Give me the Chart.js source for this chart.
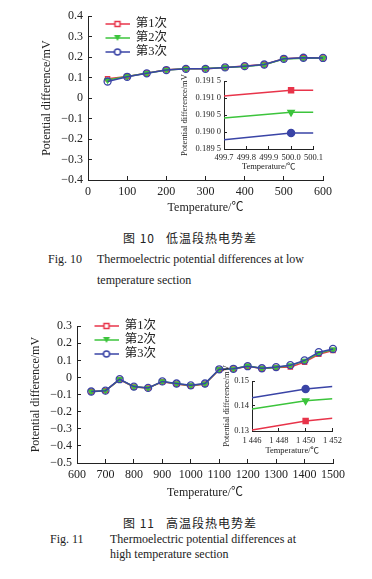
<!DOCTYPE html>
<html>
<head>
<meta charset="utf-8">
<script src="https://cdn.jsdelivr.net/npm/chart.js@4/dist/chart.umd.min.js"></script>
<style>
  body { margin: 0; background: #fff; }
  #page { position: relative; width: 372px; height: 579px; overflow: hidden; background: #fff; }
  .box { position: absolute; }
  .cap { position: absolute; white-space: nowrap; color: #222; font-family: "Liberation Serif", "Noto Sans CJK SC", serif; font-size: 12px; line-height: 14px; }
  .cn { font-family: "Noto Sans CJK SC", serif; letter-spacing: 1px; }
</style>
</head>
<body>
<div id="page">
  <canvas id="lowChart" class="box" style="left:0;top:0" width="372" height="215"></canvas>
  <canvas id="lowInset" class="box" style="left:175px;top:70px" width="155" height="105"></canvas>
  <canvas id="highChart" class="box" style="left:0;top:310px" width="372" height="190"></canvas>
  <canvas id="highInset" class="box" style="left:215px;top:362px" width="135" height="96"></canvas>

  <div class="cap cn" style="left:123px;top:231px">图 10&nbsp;&nbsp;&nbsp;低温段热电势差</div>
  <div class="cap" style="left:48px;top:252px">Fig. 10</div>
  <div class="cap" style="left:97px;top:252px">Thermoelectric potential differences at low</div>
  <div class="cap" style="left:97px;top:273px">temperature section</div>

  <div class="cap cn" style="left:123px;top:516px">图 11&nbsp;&nbsp;&nbsp;高温段热电势差</div>
  <div class="cap" style="left:50px;top:532px">Fig. 11</div>
  <div class="cap" style="left:110px;top:532px">Thermoelectric potential differences at</div>
  <div class="cap" style="left:110px;top:547px">high temperature section</div>
</div>
<script>
  // ---- data ----
  const runNames = ["第1次", "第2次", "第3次"];

  // Fig 10, low temperature section
  const lowTemps = [50, 100, 150, 200, 250, 300, 350, 400, 450, 500, 550, 600];
  const lowRun1 = [0.095, 0.106, 0.122, 0.138, 0.143, 0.143, 0.150, 0.157, 0.164, 0.192, 0.197, 0.196];
  const lowRun2 = [0.088, 0.105, 0.121, 0.137, 0.143, 0.144, 0.150, 0.154, 0.163, 0.191, 0.195, 0.196];
  const lowRun3 = [0.081, 0.104, 0.121, 0.137, 0.143, 0.143, 0.150, 0.156, 0.164, 0.192, 0.197, 0.196];

  // Fig 10 inset (around 500 C)
  const lowZoomTemps = [499.7, 500.0, 500.1];
  const lowZoomRun1 = [0.19106, 0.19123, 0.19123];
  const lowZoomRun2 = [0.19041, 0.19058, 0.19058];
  const lowZoomRun3 = [0.18977, 0.18997, 0.18997];

  // Fig 11, high temperature section
  const highTemps = [650, 700, 750, 800, 850, 900, 950, 1000, 1050, 1100, 1150, 1200, 1250, 1300, 1350, 1400, 1450, 1500];
  const highRun1 = [-0.082, -0.077, -0.012, -0.055, -0.062, -0.025, -0.038, -0.050, -0.038, 0.046, 0.050, 0.066, 0.052, 0.058, 0.062, 0.090, 0.136, 0.158];
  const highRun2 = [-0.083, -0.078, -0.011, -0.054, -0.062, -0.024, -0.036, -0.047, -0.037, 0.047, 0.050, 0.068, 0.053, 0.059, 0.070, 0.097, 0.142, 0.163];
  const highRun3 = [-0.082, -0.077, -0.010, -0.053, -0.061, -0.023, -0.035, -0.046, -0.035, 0.048, 0.051, 0.066, 0.054, 0.061, 0.072, 0.100, 0.148, 0.167];

  // Fig 11 inset (around 1450 C)
  const highZoomTemps = [1446, 1450, 1452];
  const highZoomRun1 = [0.1304, 0.1340, 0.1351];
  const highZoomRun2 = [0.1388, 0.1421, 0.1429];
  const highZoomRun3 = [0.1433, 0.1468, 0.1478];

  const RED = "#e8344a", GREEN = "#3cc43c", BLUE = "#3a44a6";
  const INK = "#222";
  const SERIF = '"Liberation Serif", "Noto Sans CJK SC", serif';

  Chart.defaults.font.family = SERIF;
  Chart.defaults.color = INK;
  Chart.defaults.animation = false;

  function pts(xs, ys){
    return xs.map((x, i) => ({x: x, y: ys[i]}));
  }

  function fmtMinus(v, dp){
    if(Math.abs(v) < 1e-9) return "0";
    var s = Math.abs(v).toFixed(dp);
    return (v < 0 ? "\u2212" : "") + s;
  }

  // legend swatch: short line with the marker in the middle
  function legendSwatch(color, style){
    var c = document.createElement("canvas");
    c.width = 40; c.height = 10;
    var g = c.getContext("2d");
    g.strokeStyle = color; g.lineWidth = 1.5;
    g.beginPath(); g.moveTo(16, 5); g.lineTo(40, 5); g.stroke();
    g.fillStyle = color;
    var cx = 28, cy = 5;
    if(style == "rect"){
      g.fillStyle = "#fff"; g.fillRect(cx-2.5, cy-2.5, 5, 5);
      g.strokeRect(cx-2.5, cy-2.5, 5, 5);
    } else if(style == "tri"){
      g.beginPath(); g.moveTo(cx-3.5, cy-3); g.lineTo(cx+3.5, cy-3); g.lineTo(cx, cy+3); g.closePath(); g.fill();
    } else {
      g.fillStyle = "#fff";
      g.beginPath(); g.arc(cx, cy, 3, 0, Math.PI*2); g.fill(); g.stroke();
    }
    return c;
  }

  const swatches = [legendSwatch(RED, "rect"), legendSwatch(GREEN, "tri"), legendSwatch(BLUE, "circle")];

  function mainDatasets(xs, r1, r2, r3){
    return [
      {label: runNames[0], data: pts(xs, r1), borderColor: RED, backgroundColor: "rgba(255,255,255,0)",
       pointStyle: "rect", pointRadius: 3, pointBorderWidth: 1.3, borderWidth: 1.5, order: 3, clip: false},
      {label: runNames[1], data: pts(xs, r2), borderColor: GREEN, backgroundColor: GREEN,
       pointStyle: "triangle", pointRotation: 180, pointRadius: 3.5, pointBorderWidth: 1, borderWidth: 1.5, order: 2, clip: false},
      {label: runNames[2], data: pts(xs, r3), borderColor: BLUE, backgroundColor: "rgba(255,255,255,0)",
       pointStyle: "circle", pointRadius: 3.5, pointBorderWidth: 1.3, borderWidth: 1.5, order: 1, clip: false}
    ];
  }

  function insetDatasets(xs, r1, r2, r3){
    var rad = [0, 3.5, 0];
    return [
      {data: pts(xs, r1), borderColor: RED, backgroundColor: RED, pointStyle: "rect", pointRadius: rad, borderWidth: 1.5},
      {data: pts(xs, r2), borderColor: GREEN, backgroundColor: GREEN, pointStyle: "triangle", pointRotation: 180, pointRadius: rad, borderWidth: 1.5},
      {data: pts(xs, r3), borderColor: BLUE, backgroundColor: BLUE, pointStyle: "circle", pointRadius: rad, borderWidth: 1.5}
    ];
  }

  function axis(opts){
    // ticks pointing into the plot, no grid
    return {
      type: "linear",
      min: opts.min, max: opts.max,
      position: opts.position,
      border: {display: true, color: INK, width: 1},
      grid: {drawOnChartArea: false, drawTicks: true, tickLength: opts.tl, tickColor: INK, tickWidth: 1},
      ticks: {stepSize: opts.step, autoSkip: false, maxRotation: 0, padding: opts.pad,
              font: {size: opts.font}, color: INK, callback: opts.fmt, includeBounds: false},
      title: {display: true, text: opts.title, font: {size: opts.font}, color: INK, padding: opts.titlePad},
      afterFit: opts.fit
    };
  }

  // put the legend box at a fixed spot inside the plot area
  function legendPlace(dx, dy){
    return {
      id: "legendPlace",
      afterLayout(chart){
        var lg = chart.legend, ca = chart.chartArea;
        if(!lg) return;
        var w = lg.width, h = lg.height;
        lg.left = ca.left + dx; lg.right = lg.left + w;
        lg.top = ca.top + dy; lg.bottom = lg.top + h;
      }
    };
  }

  function makeMain(canvasId, xs, r1, r2, r3, cfg){
    return new Chart(document.getElementById(canvasId).getContext("2d"), {
      type: "line",
      data: {datasets: mainDatasets(xs, r1, r2, r3)},
      options: {
        responsive: false,
        layout: {padding: {top: cfg.padTop, right: cfg.padRight, left: 0, bottom: 0}},
        scales: {
          x: axis({min: cfg.xMin, max: cfg.xMax, step: 100, position: "bottom", tl: -4, pad: 9, font: 12,
                   title: "Temperature/\u2103", titlePad: 0,
                   fmt: (v) => String(v), fit: (s) => { s.height = cfg.xH; }}),
          y: axis({min: cfg.yMin, max: cfg.yMax, step: 0.1, position: "left", tl: -4, pad: 9, font: 12,
                   title: "Potential difference/mV", titlePad: cfg.yTitlePad,
                   fmt: (v) => fmtMinus(v, 1), fit: (s) => { s.width = cfg.yW; }})
        },
        plugins: {
          tooltip: {enabled: false},
          legend: {
            display: true,
            position: "chartArea",
            align: "start",
            labels: {
              usePointStyle: true,
              pointStyleWidth: 40,
              padding: 1.5,
              color: INK,
              font: {size: 12.5, family: SERIF},
              generateLabels: (chart) => chart.data.datasets.map((ds, i) => ({
                text: ds.label, pointStyle: swatches[i], fillStyle: "transparent",
                strokeStyle: "transparent", lineWidth: 0, hidden: false, datasetIndex: i, fontColor: INK
              }))
            }
          }
        }
      },
      plugins: [legendPlace(cfg.legendDx, cfg.legendDy)]
    });
  }

  function makeInset(canvasId, xs, r1, r2, r3, cfg){
    return new Chart(document.getElementById(canvasId).getContext("2d"), {
      type: "line",
      data: {datasets: insetDatasets(xs, r1, r2, r3)},
      options: {
        responsive: false,
        layout: {padding: {top: cfg.padTop, right: cfg.padRight, left: 0, bottom: 0}},
        scales: {
          x: axis({min: cfg.xMin, max: cfg.xMax, step: cfg.xStep, position: "bottom", tl: -3, pad: cfg.xPad, font: 8.5,
                   title: "Temperature/\u2103", titlePad: cfg.xTitlePad,
                   fmt: cfg.xFmt, fit: (s) => { s.height = cfg.xH; }}),
          y: axis({min: cfg.yMin, max: cfg.yMax, step: cfg.yStep, position: "left", tl: -3, pad: 6, font: 8.5,
                   title: "Potential difference/mV", titlePad: cfg.yTitlePad,
                   fmt: cfg.yFmt, fit: (s) => { s.width = cfg.yW; }})
        },
        plugins: {legend: {display: false}, tooltip: {enabled: false}}
      }
    });
  }

  makeMain("lowChart", lowTemps, lowRun1, lowRun2, lowRun3, {
    padTop: 13, padRight: 49, xH: 35, yW: 88, yTitlePad: 40,
    xMin: 0, xMax: 600, yMin: -0.4, yMax: 0.4, legendDx: 0, legendDy: 0
  });

  makeMain("highChart", highTemps, highRun1, highRun2, highRun3, {
    padTop: 15, padRight: 39, xH: 37, yW: 77, yTitlePad: 29,
    xMin: 600, xMax: 1500, yMin: -0.5, yMax: 0.3, legendDx: 0, legendDy: -8
  });

  makeInset("lowInset", lowZoomTemps, lowZoomRun1, lowZoomRun2, lowZoomRun3, {
    padTop: 9, padRight: 10, xH: 26, yW: 49, yTitlePad: 5, xTitlePad: 3, xPad: 7,
    xMin: 499.7, xMax: 500.1, xStep: 0.1, yMin: 0.1895, yMax: 0.1915, yStep: 0.0005,
    xFmt: (v) => v.toFixed(1),
    yFmt: (v) => { var s = v.toFixed(4); return s.slice(0, 5) + " " + s.slice(5); }
  });

  makeInset("highInset", highZoomTemps, highZoomRun1, highZoomRun2, highZoomRun3, {
    padTop: 19, padRight: 13, xH: 27, yW: 37, yTitlePad: 7, xTitlePad: 2, xPad: 8,
    xMin: 1446, xMax: 1452, xStep: 2, yMin: 0.13, yMax: 0.15, yStep: 0.01,
    xFmt: (v) => { var s = String(Math.round(v)); return s.slice(0, 1) + " " + s.slice(1); },
    yFmt: (v) => v.toFixed(2)
  });
</script>
</body>
</html>
